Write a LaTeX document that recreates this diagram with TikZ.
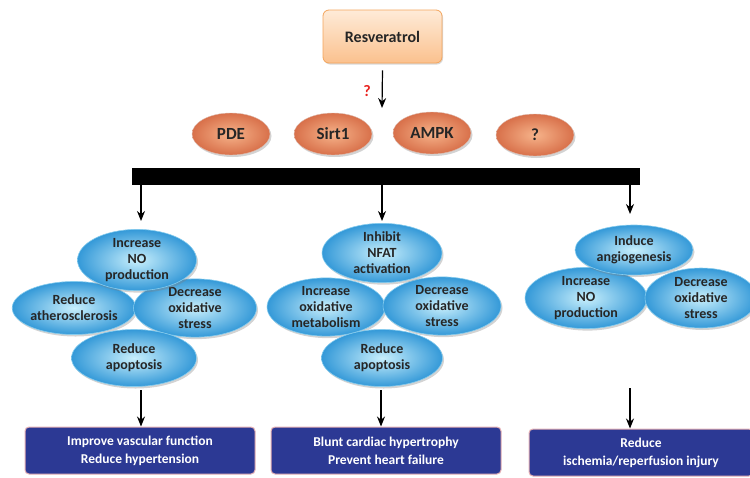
\documentclass[tikz,border=0pt]{standalone}
\usepackage{fontspec}
\setmainfont{Carlito}
\usetikzlibrary{shapes.geometric,arrows.meta,shadows}
\definecolor{ovalin}{HTML}{F6B38A}
\definecolor{ovalout}{HTML}{D8704A}
\definecolor{bluein}{HTML}{C8EFFC}
\definecolor{blueout}{HTML}{3499D8}
\definecolor{blueedge}{HTML}{86CCEE}
\definecolor{boxblue}{HTML}{2C3994}
\definecolor{boxedge}{HTML}{E6B0B4}
\definecolor{restop}{HTML}{FEEBD8}
\definecolor{resbot}{HTML}{FBC18E}
\definecolor{resedge}{HTML}{F4A55C}
\definecolor{qred}{HTML}{E8231F}
\begin{document}
\begin{tikzpicture}[x=1pt,y=-1pt,
  every node/.style={font=\bfseries},
  arr/.style={-{Stealth[length=10pt,width=8pt]},line width=1.2pt,black},
  oval/.style={ellipse,minimum width=78pt,minimum height=42pt,inner sep=0pt,
    inner color=ovalin,outer color=ovalout,draw=ovalout!80!black!40!white,
    font=\bfseries\fontsize{17}{20}\selectfont,text=black!85,
    drop shadow={shadow xshift=1.5pt,shadow yshift=-2pt,opacity=0.35}},
  eff/.style={ellipse,inner sep=0pt,minimum width=120pt,minimum height=56pt,
    inner color=bluein,outer color=blueout,draw=blueedge,line width=0.6pt,
    align=center,font=\bfseries\fontsize{14}{16}\selectfont,text=black!85,
    drop shadow={shadow xshift=1.5pt,shadow yshift=-2pt,opacity=0.35}},
  outc/.style={rectangle,rounded corners=4pt,fill=boxblue,draw=boxedge,line width=1pt,
    minimum width=230pt,minimum height=47pt,align=center,text=white,
    font=\bfseries\fontsize{13.5}{18}\selectfont}
]
\useasboundingbox (0,0) rectangle (750,477);
\clip (0,0) rectangle (750,477);

% Resveratrol
\node[rectangle,rounded corners=6pt,top color=restop,bottom color=resbot,draw=resedge,line width=0.8pt,
  minimum width=119pt,minimum height=53pt,font=\bfseries\fontsize{16}{19}\selectfont,text=black!85,
  drop shadow={shadow xshift=1pt,shadow yshift=-1.5pt,opacity=0.3}] (res) at (382.5,36.5) {Resveratrol};
\coordinate (resend) at (382,108);
\draw[arr] ([yshift=-7pt]res.south) -- (resend);
\node[text=qred,font=\bfseries\fontsize{16}{18}\selectfont] (q) at (367,91) {?};

% mediators
\node[oval] (pde) at (231,134) {PDE};
\node[oval] (sirt) at (333,134) {Sirt1};
\node[oval] (ampk) at (432,133) {AMPK};
\node[oval] (unk) at (535,135) {?};

% bar
\node[rectangle,fill=black,minimum width=508pt,minimum height=17pt,inner sep=0pt] (bar) at (386,176.5) {};

\coordinate (a1) at (141,221);
\coordinate (a2) at (382,221);
\coordinate (a3) at (630,214);
\draw[arr] (bar.south -| a1) -- (a1);
\draw[arr] (bar.south -| a2) -- (a2);
\draw[arr] (bar.south -| a3) -- (a3);

% left cluster
\node[eff,minimum width=118pt,minimum height=53pt] (l2) at (74,308) {Reduce\\atherosclerosis};
\node[eff,minimum width=123pt,minimum height=57pt] (l3) at (195,308) {Decrease\\oxidative\\stress};
\node[eff,minimum width=119pt,minimum height=55pt] (l1) at (137,260) {Increase\\NO\\production};
\node[eff,minimum width=125pt,minimum height=57pt] (l4) at (134,358) {Reduce\\apoptosis};

% middle cluster
\node[eff,minimum width=118pt,minimum height=55pt] (m2) at (326,307) {Increase\\oxidative\\metabolism};
\node[eff,minimum width=118pt,minimum height=57pt] (m3) at (442,306) {Decrease\\oxidative\\stress};
\node[eff,minimum width=120pt,minimum height=57pt] (m1) at (382,253) {Inhibit\\NFAT\\activation};
\node[eff,minimum width=121pt,minimum height=57pt] (m4) at (382,358) {Reduce\\apoptosis};

% right cluster
\node[eff,minimum width=122pt,minimum height=60pt] (r2) at (586,298) {Increase\\NO\\production};
\node[eff,minimum width=112pt,minimum height=60pt] (r3) at (701,298) {Decrease\\oxidative\\stress};
\node[eff,minimum width=118pt,minimum height=50pt] (r1) at (634,250) {Induce\\angiogenesis};

% outcomes
\node[outc] (o1) at (140,450.5) {Improve vascular function\\Reduce hypertension};
\node[outc] (o2) at (386,450.5) {Blunt cardiac hypertrophy\\Prevent heart failure};
\node[outc,minimum width=224pt] (o3) at (641,452.5) {Reduce\\ischemia/reperfusion injury};

\coordinate (b1) at (141,390);
\coordinate (b2) at (381,390);
\coordinate (b3) at (630,388);
\draw[arr] (b1) -- (o1.north -| b1);
\draw[arr] (b2) -- (o2.north -| b2);
\draw[arr] (b3) -- (o3.north -| b3);
\end{tikzpicture}
\end{document}
